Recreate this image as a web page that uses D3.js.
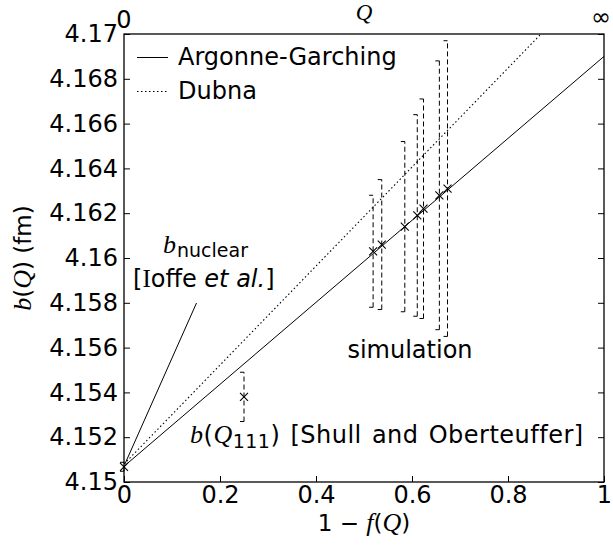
<!DOCTYPE html>
<html>
<head>
<meta charset="utf-8">
<script src="https://cdn.jsdelivr.net/npm/d3@7"></script>
<style>
  body { margin: 0; background: #fff; }
  text { font-family: "DejaVu Sans", sans-serif; fill: #000; }
  .it { font-family: "Liberation Serif", serif; font-style: italic; }
</style>
</head>
<body>
<div class="chart"></div>
<script>
let FRAME_WIDTH = 613;
let FRAME_HEIGHT = 546;
let MARGINS = {left: 124, right: 9, top: 34, bottom: 64};

// data
const xTicks = [0, 0.2, 0.4, 0.6, 0.8, 1];
const xTickLabels = ["0", "0.2", "0.4", "0.6", "0.8", "1"];
const yTicks = [4.15, 4.152, 4.154, 4.156, 4.158, 4.16, 4.162, 4.164, 4.166, 4.168, 4.17];
const yTickLabels = ["4.15", "4.152", "4.154", "4.156", "4.158", "4.16", "4.162", "4.164", "4.166", "4.168", "4.17"];

const argonneX = [0, 1];
const argonneB = [4.1507, 4.1690];
const dubnaX = [0, 1];
const dubnaB = [4.1508, 4.1729];

const simX = [0.519, 0.537, 0.585, 0.611, 0.624, 0.657, 0.674];
const simB = [4.1603, 4.1606, 4.1614, 4.1619, 4.1622, 4.1628, 4.1631];
const simErr = [0.0025, 0.0029, 0.0038, 0.0045, 0.0049, 0.0060, 0.0066];

const shullX = [0.25];
const shullB = [4.1538];
const shullErr = [0.0011];

const nuclearX = [0];
const nuclearB = [4.15068];
const nuclearErr = [0.0002];

let PLOT_W = FRAME_WIDTH - MARGINS.left - MARGINS.right;
let PLOT_H = FRAME_HEIGHT - MARGINS.top - MARGINS.bottom;

let SVG = d3.select(".chart").append("svg")
    .attr("width", FRAME_WIDTH)
    .attr("height", FRAME_HEIGHT);

const X_SCALE = d3.scaleLinear().domain([0, 1]).range([0, PLOT_W]);
const Y_SCALE = d3.scaleLinear().domain([4.15, 4.17]).range([PLOT_H, 0]);

let G = SVG.append("g")
    .attr("transform", "translate(" + MARGINS.left + "," + MARGINS.top + ")");

G.append("clipPath").attr("id", "clip")
  .append("rect").attr("width", PLOT_W).attr("height", PLOT_H);

// axes, ticks pointing inward
G.append("g")
    .attr("class", "axis")
    .call(d3.axisLeft(Y_SCALE).tickValues(yTicks).tickSize(-6).tickPadding(6)
        .tickFormat((d, i) => yTickLabels[i]));

G.append("g")
    .attr("class", "axis")
    .attr("transform", "translate(" + PLOT_W + ",0)")
    .call(d3.axisRight(Y_SCALE).tickValues(yTicks).tickSize(-6).tickFormat(""));

G.append("g")
    .attr("class", "axis")
    .attr("transform", "translate(0," + PLOT_H + ")")
    .call(d3.axisBottom(X_SCALE).tickValues(xTicks).tickSize(-6).tickPadding(4)
        .tickFormat((d, i) => xTickLabels[i]));

G.selectAll(".axis .domain").remove();
G.selectAll(".axis line").attr("stroke", "#000").attr("stroke-width", 1);
G.selectAll(".axis text")
    .attr("font-family", "DejaVu Sans")
    .attr("font-size", 24)
    .attr("fill", "#000");

// frame
G.append("rect")
    .attr("width", PLOT_W).attr("height", PLOT_H)
    .attr("fill", "none").attr("stroke", "#000").attr("stroke-width", 1.3);

// top axis labels
G.append("text").attr("x", X_SCALE(0)).attr("y", -6)
    .attr("text-anchor", "middle").style("font-size", "24px").text("0");
G.append("text").attr("x", X_SCALE(1) - 3).attr("y", -9)
    .attr("text-anchor", "middle").style("font-size", "24px").text("∞");
G.append("text").attr("class", "it").attr("x", X_SCALE(0.5)).attr("y", -14)
    .attr("text-anchor", "middle").style("font-size", "23px").text("Q");

// lines
const line = d3.line().x(d => X_SCALE(d[0])).y(d => Y_SCALE(d[1]));

G.append("path")
    .datum(argonneX.map((x, i) => [x, argonneB[i]]))
    .attr("clip-path", "url(#clip)")
    .attr("d", line)
    .attr("fill", "none").attr("stroke", "#000").attr("stroke-width", 1);

G.append("path")
    .datum(dubnaX.map((x, i) => [x, dubnaB[i]]))
    .attr("clip-path", "url(#clip)")
    .attr("d", line)
    .attr("fill", "none").attr("stroke", "#000").attr("stroke-width", 1.1)
    .attr("stroke-dasharray", "1.5,2.5");

// error bars with crosses
function errorPoints(xs, bs, errs) {
    let pts = xs.map((x, i) => ({x: x, b: bs[i], e: errs[i]}));
    let grp = G.append("g");
    grp.selectAll(".ebar").data(pts).enter().append("line")
        .attr("x1", d => X_SCALE(d.x)).attr("x2", d => X_SCALE(d.x))
        .attr("y1", d => Y_SCALE(d.b - d.e)).attr("y2", d => Y_SCALE(d.b + d.e))
        .attr("stroke", "#000").attr("stroke-width", 1)
        .attr("stroke-dasharray", "5,3");
    grp.selectAll(".capTop").data(pts).enter().append("line")
        .attr("x1", d => X_SCALE(d.x) - 4).attr("x2", d => X_SCALE(d.x))
        .attr("y1", d => Y_SCALE(d.b + d.e)).attr("y2", d => Y_SCALE(d.b + d.e))
        .attr("stroke", "#000").attr("stroke-width", 1);
    grp.selectAll(".capBot").data(pts).enter().append("line")
        .attr("x1", d => X_SCALE(d.x) - 4).attr("x2", d => X_SCALE(d.x))
        .attr("y1", d => Y_SCALE(d.b - d.e)).attr("y2", d => Y_SCALE(d.b - d.e))
        .attr("stroke", "#000").attr("stroke-width", 1);
    grp.selectAll(".cross").data(pts).enter().append("path")
        .attr("d", d => {
            let cx = X_SCALE(d.x), cy = Y_SCALE(d.b), s = 4;
            return "M" + (cx - s) + "," + (cy - s) + "L" + (cx + s) + "," + (cy + s) +
                   "M" + (cx - s) + "," + (cy + s) + "L" + (cx + s) + "," + (cy - s);
        })
        .attr("stroke", "#000").attr("stroke-width", 1.1).attr("fill", "none");
}
errorPoints(simX, simB, simErr);
errorPoints(shullX, shullB, shullErr);
errorPoints(nuclearX, nuclearB, nuclearErr);

// legend
G.append("line").attr("x1", 13).attr("x2", 44).attr("y1", 23.5).attr("y2", 23.5)
    .attr("stroke", "#000").attr("stroke-width", 1);
G.append("text").attr("x", 54).attr("y", 31).style("font-size", "24px")
    .text("Argonne-Garching");
G.append("line").attr("x1", 13).attr("x2", 44).attr("y1", 57.5).attr("y2", 57.5)
    .attr("stroke", "#000").attr("stroke-width", 1.1).attr("stroke-dasharray", "1.5,2.5");
G.append("text").attr("x", 54).attr("y", 65).style("font-size", "24px")
    .text("Dubna");

// annotations
let nuc = G.append("text").attr("x", 39).attr("y", 219);
nuc.append("tspan").attr("class", "it").style("font-size", "26px").text("b");
nuc.append("tspan").attr("dy", 4).attr("dx", 1).style("font-size", "19px").text("nuclear");

let ioffe = G.append("text").attr("x", 9).attr("y", 253).style("font-size", "24px");
ioffe.append("tspan").text("[");
ioffe.append("tspan").style("font-family", "Liberation Serif").style("font-size", "25px").text("I");
ioffe.append("tspan").text("offe ");
ioffe.append("tspan").style("font-style", "italic").text("et al.");
ioffe.append("tspan").text("]");

G.append("line")
    .attr("x1", X_SCALE(nuclearX[0]) + 1).attr("y1", Y_SCALE(nuclearB[0]) - 3)
    .attr("x2", 72.5).attr("y2", 269)
    .attr("stroke", "#000").attr("stroke-width", 1);

G.append("text").attr("x", 286).attr("y", 324).attr("text-anchor", "middle")
    .style("font-size", "24px").text("simulation");

let shull = G.append("text").attr("x", 66).attr("y", 409).style("font-size", "24px")
    .style("word-spacing", "2px").style("letter-spacing", "0.5px");
shull.append("tspan").attr("class", "it").style("font-size", "26px").text("b");
shull.append("tspan").text("(");
shull.append("tspan").attr("class", "it").style("font-size", "26px").text("Q");
shull.append("tspan").attr("dy", 5).style("font-size", "19px").text("111");
shull.append("tspan").attr("dy", -5).text(") [Shull and Oberteuffer]");

// axis titles
let xl = SVG.append("text")
    .attr("x", MARGINS.left + PLOT_W / 2).attr("y", 531)
    .attr("text-anchor", "middle").style("font-size", "23px");
xl.append("tspan").text("1 − ");
xl.append("tspan").attr("class", "it").style("font-size", "26px").text("f");
xl.append("tspan").text("(");
xl.append("tspan").attr("class", "it").style("font-size", "26px").text("Q");
xl.append("tspan").text(")");

let yl = SVG.append("text")
    .attr("transform", "translate(31," + (MARGINS.top + PLOT_H / 2) + ") rotate(-90)")
    .attr("text-anchor", "middle").style("font-size", "23px");
yl.append("tspan").attr("class", "it").style("font-size", "26px").text("b");
yl.append("tspan").text("(");
yl.append("tspan").attr("class", "it").style("font-size", "26px").text("Q");
yl.append("tspan").text(") (fm)");
</script>
</body>
</html>
